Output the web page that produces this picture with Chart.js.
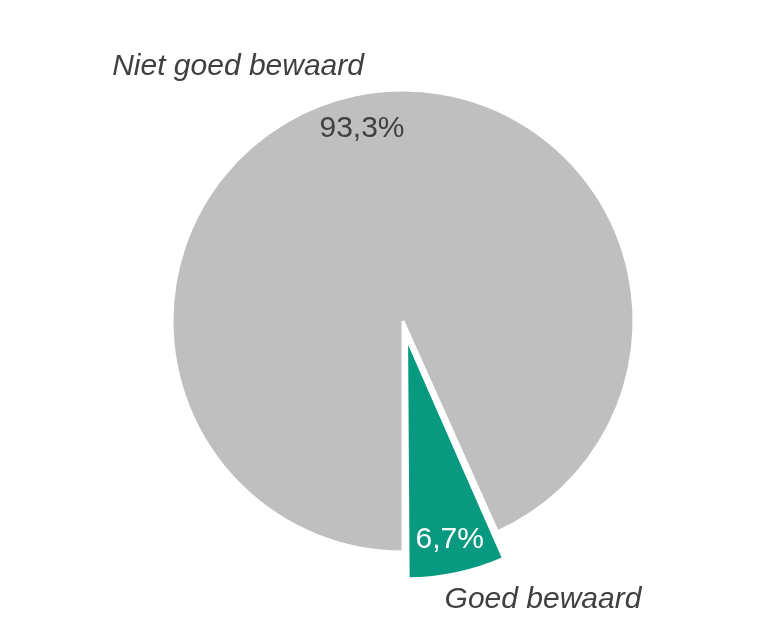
<!DOCTYPE html>
<html>
<head>
<meta charset="utf-8">
<script src="https://cdn.jsdelivr.net/npm/chart.js@4"></script>
<style>
    html, body { margin: 0; padding: 0; background: #fff; }
    #wrap { width: 768px; height: 636px; }
</style>
</head>
<body>
<div id="wrap"><canvas id="pieChart"></canvas></div>
<script>
const categories = ['Niet goed bewaard', 'Goed bewaard'];
const values = [93.3, 6.7];
const valueLabels = ['93,3%', '6,7%'];
const sliceColors = ['#bfbfbf', '#089a80'];
const sliceOffsets = [0, 68];

// where the texts sit, in units of the pie radius
const pctDistance = [0.85, 0.85];
const pctColors = ['#404040', '#ffffff'];
const namePos = [
    { dx: -0.714, dy: -1.065 },
    { dx: 0.606, dy: 1.242 }
];

// same shift Chart.js applies to an exploded arc
function arcShift(offset, circumference) {
    const o = (offset || 0) / 4;
    const fix = 1 - Math.sin(Math.min(Math.PI, circumference || 0));
    return o + o * fix;
}

const pieLabels = {
    id: 'pieLabels',
    afterDatasetsDraw(chart) {
        const ctx = chart.ctx;
        const meta = chart.getDatasetMeta(0);
        ctx.save();
        meta.data.forEach((arc, i) => {
            const { x, y, startAngle, endAngle, outerRadius, circumference } =
                arc.getProps(['x', 'y', 'startAngle', 'endAngle', 'outerRadius', 'circumference'], true);
            const mid = (startAngle + endAngle) / 2;
            const d = arcShift(sliceOffsets[i], circumference) + outerRadius * pctDistance[i];

            ctx.font = '30px "Liberation Sans", Arial, sans-serif';
            ctx.fillStyle = pctColors[i];
            ctx.textAlign = 'center';
            ctx.textBaseline = 'middle';
            ctx.fillText(valueLabels[i], x + Math.cos(mid) * d, y + Math.sin(mid) * d);

            ctx.font = 'italic 30px "Liberation Sans", Arial, sans-serif';
            ctx.fillStyle = '#404040';
            ctx.textBaseline = 'alphabetic';
            ctx.fillText(categories[i], x + namePos[i].dx * outerRadius, y + namePos[i].dy * outerRadius);
        });
        ctx.restore();
    }
};

document.addEventListener('DOMContentLoaded', () => {
    const ctx = document.getElementById('pieChart');

    new Chart(ctx, {
        type: 'pie',
        data: {
            labels: categories,
            datasets: [{
                data: values,
                backgroundColor: sliceColors,
                borderColor: '#ffffff',
                borderWidth: 3,
                offset: sliceOffsets
            }]
        },
        options: {
            responsive: true,
            maintainAspectRatio: false,
            animation: false,
            rotation: 180,
            radius: 231,
            layout: { padding: { left: 38, top: 6 } },
            plugins: {
                legend: { display: false },
                tooltip: { enabled: false }
            }
        },
        plugins: [pieLabels]
    });
});
</script>
</body>
</html>
